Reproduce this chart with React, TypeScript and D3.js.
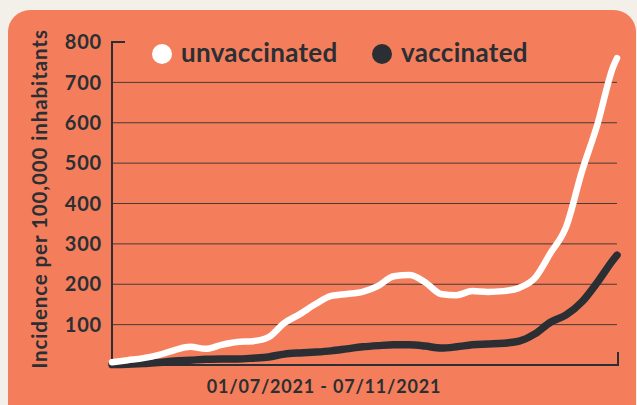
import * as React from "react";
import * as d3 from "d3";

// days since 01/07/2021
const days = [0, 4, 8, 12, 16, 20, 24, 28, 32, 36, 40, 44, 48, 52, 56, 60, 64, 68, 72, 76, 80, 84, 88, 92, 96, 100, 104, 108, 112, 116, 120, 124, 128, 129];
const unvaccinated = [7, 12, 17, 25, 37, 45, 40, 50, 57, 59, 69, 104, 126, 151, 171, 176, 181, 196, 220, 223, 205, 176, 173, 183, 181, 183, 191, 215, 277, 342, 478, 596, 738, 760];
const vaccinated = [1, 2, 4, 6, 10, 12, 14, 15, 15, 17, 20, 27, 30, 32, 35, 40, 45, 48, 50, 50, 47, 42, 45, 50, 52, 54, 59, 77, 106, 124, 156, 205, 260, 272];
const yTicks = [100, 200, 300, 400, 500, 600, 700, 800];

const W = 637;
const H = 405;
const BG = "#f47e5b";
const DARK = "#2b2f33";
const FONT = "Lato, sans-serif";

interface Pt {
  d: number;
  v: number;
}

export default function App() {
  const x = d3.scaleLinear().domain([0, 129]).range([112, 617]);
  const y = d3.scaleLinear().domain([0, 800]).range([365, 42]);

  const line = d3
    .line<Pt>()
    .x(p => x(p.d))
    .y(p => y(p.v))
    .curve(d3.curveMonotoneX);

  const unvacc: Pt[] = days.map((d, i) => ({ d, v: unvaccinated[i] }));
  const vacc: Pt[] = days.map((d, i) => ({ d, v: vaccinated[i] }));

  return (
    <svg
      width={W}
      height={H}
      style={{ position: "absolute", left: 0, top: 0, display: "block" }}
      fontFamily={FONT}
    >
      <rect width={W} height={H} fill="#f3f0ea" />
      <rect x={8} y={10} width={628} height={420} rx={22} fill={BG} />

      {/* gridlines */}
      {yTicks.slice(0, -1).map(t => (
        <line key={t} x1={x(0)} x2={x(129)} y1={y(t)} y2={y(t)} stroke={DARK} strokeWidth={1} opacity={0.85} />
      ))}

      {/* axes */}
      <path
        d={`M${x(0) + 13},${y(800)}H${x(0)}V${y(0)}H${x(129) + 1}V${y(0) - 13}`}
        fill="none"
        stroke={DARK}
        strokeWidth={2}
      />

      {yTicks.map(t => (
        <text key={t} x={102} y={y(t)} dy="0.36em" textAnchor="end" fontSize={20} fontWeight={700} letterSpacing={0.8} fill={DARK}>
          {t}
        </text>
      ))}

      <text
        transform="translate(47,199) rotate(-90)"
        textAnchor="middle"
        fontSize={20.5}
        fontWeight={700}
        letterSpacing={0.9}
        fill={DARK}
      >
        Incidence per 100,000 inhabitants
      </text>

      <text x={324} y={393} textAnchor="middle" fontSize={18} fontWeight={700} letterSpacing={0.8} fill={DARK}>
        01/07/2021 - 07/11/2021
      </text>

      {/* legend */}
      <circle cx={162} cy={54} r={10} fill="#ffffff" />
      <text x={181} y={62} fontSize={26} fontWeight={700} letterSpacing={0.3} fill={DARK}>
        unvaccinated
      </text>
      <circle cx={382} cy={54} r={10} fill={DARK} />
      <text x={401} y={62} fontSize={26} fontWeight={700} letterSpacing={0.3} fill={DARK}>
        vaccinated
      </text>

      <path d={line(vacc) ?? ""} fill="none" stroke={DARK} strokeWidth={7.5} strokeLinecap="round" strokeLinejoin="round" />
      <path d={line(unvacc) ?? ""} fill="none" stroke="#ffffff" strokeWidth={6.5} strokeLinecap="round" strokeLinejoin="round" />
    </svg>
  );
}
